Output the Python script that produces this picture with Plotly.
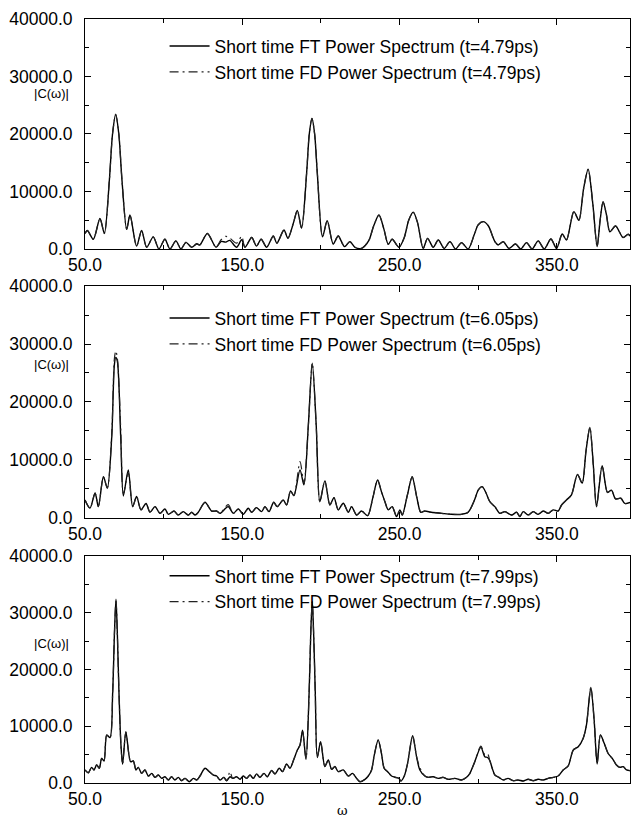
import plotly.graph_objects as go

# ---------------- data ----------------
# panel 1 (t = 4.79 ps)
w1 = [50, 51.5, 55.3, 59.5, 62.3, 65.5, 67.5, 69.5, 71.5, 73.5, 76.5, 78.6, 82.8, 86, 89.2,
      93.4, 97, 100.8, 104, 107.8, 111, 114.2, 117.8, 121, 123, 127.8, 133.3, 136.5, 139.5,
      142, 146.4, 149.6, 151.7, 156, 159, 162, 165.5, 169.7, 172, 176.5, 179, 182.5, 185,
      187.7, 190.9, 192.6, 194.3, 196, 197.7, 201, 204, 207.8, 211, 215, 218.4, 221.6,
      225.8, 230.5, 233.5, 236.9, 240, 242.8, 245.3, 249.6, 253, 255.8, 258.7, 261.5, 265,
      267.8, 271.4, 274.6, 278.4, 282, 285.6, 289.4, 293.6, 297.5, 300, 303.2, 306.5, 309,
      310.6, 312.7, 315.9, 319.5, 323.7, 327, 330.7, 334.3, 338.1, 342, 346.2, 349.8, 353.4,
      356.1, 360.8, 364, 367, 369.9, 372.8, 375.6, 377.5, 379.4, 381.5, 383.7, 387.3, 392.1,
      395.3, 397]
ft1 = [2700, 3200, 1700, 5300, 2700, 12000, 20000, 23400, 20000, 12000, 3400, 5900, 500, 3200, 300,
       2100, 0, 1700, 0, 1400, 0, 1150, 300, 900, 700, 2700, 300, 1300, 1200,
       1500, 300, 1600, 300, 2000, 500, 1700, 300, 2250, 1000, 3300, 1850, 4500, 6700,
       3600, 13200, 20000, 22700, 20000, 13200, 2100, 4900, 870, 2260, 400, 1280, 300,
       100, 1500, 4000, 5900, 3500, 800, 1700, 300, 2000, 5000, 6400, 4500, 100,
       1850, 300, 1560, 100, 1280, 0, 1100, 0, 2500, 4200, 4750, 4000, 2300,
       1280, 700, 1280, 100, 870, 0, 1100, 0, 1400, 0, 1740, 100, 2600,
       1560, 6500, 5000, 10500, 13860, 8000, 400, 5000, 8200, 6000, 3000, 4000, 2000,
       2550, 2150]
fd1 = [2700, 3200, 1700, 5300, 2700, 12000, 20000, 23400, 20000, 12000, 3400, 5900, 500, 3200, 300,
       2100, 0, 1700, 0, 1400, 0, 1150, 300, 900, 700, 2700, 300, 1600, 2200,
       1900, 1000, 2200, 300, 2000, 500, 1700, 300, 2250, 1000, 3300, 1850, 4500, 6700,
       3600, 13200, 20000, 22700, 20000, 13200, 2100, 4900, 870, 2260, 400, 1280, 300,
       100, 1500, 4000, 5900, 3500, 800, 1700, 300, 2000, 5000, 6400, 4500, 100,
       1850, 300, 1560, 100, 1280, 0, 1100, 0, 2500, 4200, 4750, 4000, 2300,
       1280, 700, 1280, 100, 870, 0, 1100, 0, 1400, 0, 1740, 100, 2600,
       1560, 6500, 5000, 10500, 13860, 8000, 400, 5000, 8200, 6000, 3000, 4000, 2000,
       2550, 2150]

# panel 2 (t = 6.05 ps)
w2 = [50, 53.2, 56.4, 58.5, 61.7, 64.2, 67, 68.7, 69.6, 70.6, 72.7, 74.4, 77.5, 80.3, 82.8,
      85.6, 88.8, 91.3, 94.5, 97.7, 100.8, 103, 106.6, 109.3, 112.5, 115.7, 117.8, 120, 122,
      126.3, 130.5, 133.7, 135.8, 141, 144.3, 147.5, 150.6, 153.8, 156, 159, 162.3, 164.4,
      167, 170, 172.2, 176, 178.2, 180.7, 182.8, 186.7, 189.2, 192, 194.5, 197, 199.3,
      202.5, 205.7, 208.3, 211, 214.2, 217.4, 219.5, 222.7, 225.8, 229.7, 233, 236, 238.5,
      240.7, 242.8, 245.3, 248.1, 250.2, 251.7, 255, 258, 261, 263.5, 266, 270.3, 276.7,
      283, 289.4, 293.6, 297.5, 300, 302.5, 305, 307.4, 310.6, 313.8, 317, 321.2, 324.4,
      326.5, 328.6, 331.8, 335, 338.1, 341.3, 344.5, 347.7, 350.8, 353, 356.1, 359.3, 363.1,
      366.1, 368.5, 371, 373.2, 375.2, 378.8, 382.2, 384.7, 387.3, 390.7, 393.2, 397]
ft2 = [3100, 1700, 4300, 1950, 7100, 5150, 14000, 26500, 27700, 27000, 14000, 3800, 8300, 1950, 3700,
       1400, 2500, 1000, 1950, 800, 1550, 630, 1200, 500, 1100, 500, 980, 500, 980,
       2700, 1200, 1200, 800, 1950, 800, 1550, 630, 1670, 980, 1780, 1100, 1950,
       1100, 2700, 1950, 3100, 2240, 4650, 3850, 8300, 5700, 16000, 26700, 16000, 2800,
       6400, 2240, 3500, 1400, 2530, 980, 1950, 500, 1200, 400, 3500, 6550, 4500,
       2800, 1400, 1950, 230, 1400, 500, 4000, 7100, 3500, 980, 1200, 980, 800,
       630, 630, 980, 3000, 4800, 5400, 4300, 2800, 1950, 800, 1100, 500, 980,
       230, 1100, 500, 1100, 630, 1200, 800, 1400, 1200, 2240, 3100, 4000, 7500,
       6000, 11500, 15600, 9000, 1950, 9000, 4400, 4800, 3300, 3400, 2500, 2700]
fd2 = [3100, 1700, 4300, 1950, 7100, 5150, 14500, 27500, 28800, 27500, 15500, 4200, 7800, 1950, 3700,
       1400, 2500, 1000, 1950, 800, 1550, 630, 1200, 500, 1100, 500, 980, 500, 980,
       2700, 1200, 1200, 800, 2300, 800, 1550, 630, 1670, 980, 1780, 1100, 1950,
       1100, 2700, 1950, 3100, 2240, 4650, 3850, 9700, 6000, 16000, 26700, 16000, 2800,
       6400, 2240, 3500, 1400, 2530, 980, 1950, 500, 1200, 400, 3500, 6550, 4500,
       2800, 1400, 1950, 230, 1400, 500, 4000, 7100, 3500, 980, 1200, 980, 800,
       630, 630, 980, 3000, 4800, 5400, 4300, 2800, 1950, 800, 1100, 500, 980,
       230, 1100, 500, 1100, 630, 1200, 800, 1400, 1200, 2240, 3100, 4000, 7500,
       6000, 11500, 15600, 9000, 1950, 9000, 4400, 4800, 3300, 3400, 2500, 2700]

# panel 3 (t = 7.99 ps)
w3 = [50, 52.1, 54.2, 55.7, 57.4, 59.1, 60.6, 62.1, 63.8, 65.9, 67.6, 68.8, 69.7, 70.6, 71.6,
      72.8, 73.9, 76, 79, 80.7, 82.4, 83.9, 86, 88.1, 90.3, 92.4, 94.5, 96.6, 98.7, 100.8,
      103, 105, 107.2, 109.3, 111.4, 113.6, 116.3, 118.9, 121, 123.1, 126.3, 129, 131.6,
      133.7, 135.8, 138.3, 140, 142.2, 143.9, 146.4, 148.5, 150.6, 152.8, 154.9, 157, 159.1,
      161.2, 163.8, 165.9, 168.6, 170.8, 173.5, 175.6, 178.2, 180.3, 182.8, 185, 186.7, 188.3,
      190.5, 192.5, 193.6, 194.5, 195.4, 196.4, 197.7, 199.8, 202.5, 204.7, 206.8, 208.9, 211,
      214.2, 217.4, 220.1, 222.7, 224.8, 228, 230.1, 232.2, 233.9, 236.4, 238.5, 240.2, 242.4,
      244.9, 247.4, 249.6, 250.8, 253, 255.1, 258.3, 260.8, 262.9, 266.1, 268.2, 271.4, 274.6,
      277.7, 280.9, 285.2, 289.4, 292.6, 294.7, 297.4, 301.7, 304.2, 305.9, 307.4, 308.9, 310.6,
      313.1, 315.9, 319, 322.2, 325.4, 328.6, 331.8, 335, 338.1, 341.3, 344.5, 347.7, 350.8,
      354, 357.2, 360.4, 363.6, 366.7, 368.8, 371.6, 373.7, 375.6, 377.7, 380.1, 382.6, 385.2,
      387.9, 390, 392.2, 394.3, 397]
ft3 = [2300, 1800, 2750, 2300, 3200, 2600, 4350, 3900, 8450, 8000, 16000, 27000, 32400, 26000, 16000,
       7000, 3300, 9000, 3750, 3900, 2300, 2750, 1700, 2300, 1230, 1700, 1000, 1400, 820, 1100,
       530, 1100, 530, 1000, 410, 820, 230, 820, 530, 1230, 2600, 2000, 1400,
       1230, 530, 1000, 410, 1100, 820, 1100, 650, 1230, 820, 1400, 820, 1600,
       1000, 1700, 1100, 2200, 1600, 2600, 2000, 3350, 2600, 4200, 5800, 6700, 9300,
       4200, 16000, 27000, 32000, 26000, 16000, 4500, 7300, 2900, 4050, 2400, 2900, 2000,
       2300, 1230, 1700, 820, 230, 650, 1230, 2300, 4900, 7570, 5200, 2600, 2000,
       1230, 1000, 820, 350, 1230, 3460, 8340, 4640, 2300, 1230, 1000, 1100, 820,
       1000, 650, 820, 530, 1000, 1700, 3460, 6280, 4640, 4500, 3930, 2600, 1400,
       1000, 530, 820, 410, 530, 350, 650, 410, 650, 530, 820, 1000, 1230,
       2300, 3000, 5800, 6400, 7860, 10200, 16850, 11100, 3350, 8450, 7000, 5200, 4350,
       3170, 2760, 2880, 2300, 2170]
fd3 = [2300, 1800, 2750, 2300, 3200, 2600, 4350, 3900, 8450, 8000, 16000, 27000, 32400, 26000, 16000,
       7000, 3300, 9000, 3750, 3900, 2300, 2750, 1700, 2300, 1230, 1700, 1000, 1400, 820, 1100,
       530, 1100, 530, 1000, 410, 820, 230, 820, 530, 1230, 2600, 2000, 1400,
       1230, 530, 1000, 410, 2000, 820, 1100, 650, 1230, 820, 1400, 820, 1600,
       1000, 1700, 1100, 2200, 1600, 2600, 2000, 3350, 2600, 4200, 5800, 6700, 9300,
       4200, 16000, 27000, 32000, 26000, 16000, 4500, 7300, 2900, 4050, 2400, 2900, 2000,
       2300, 1230, 1700, 820, 230, 650, 1230, 2300, 4900, 7570, 5200, 2600, 2000,
       1230, 1000, 820, 350, 1230, 3460, 8340, 4640, 2700, 1230, 1000, 1100, 820,
       1000, 650, 820, 530, 1000, 1700, 3460, 6500, 5000, 5200, 3930, 2600, 1400,
       1000, 530, 820, 410, 530, 350, 650, 410, 650, 530, 820, 1000, 1230,
       2300, 3000, 5800, 6400, 7860, 10200, 16850, 11100, 3350, 8450, 7000, 5200, 4350,
       3170, 2760, 2880, 2300, 2170]

times = ["4.79", "6.05", "7.99"]
x_tick_vals = [50, 150, 250, 350]
x_tick_text = ["50.0", "150.0", "250.0", "350.0"]
y_tick_vals = [0, 10000, 20000, 30000, 40000]
y_tick_text = ["0.0", "10000.0", "20000.0", "30000.0", "40000.0"]
ylabel_pos = [27100, 26550, 24550]

# ---------------- figure ----------------
FONT = "Liberation Sans, Arial, Helvetica, sans-serif"
panels = [(w1, ft1, fd1), (w2, ft2, fd2), (w3, ft3, fd3)]
domains = [[0.699, 1.0], [0.3469, 0.6505], [0.0, 0.2971]]
legend_y = [0.988, 0.632, 0.2946]

fig = go.Figure()
layout = dict(
    width=631, height=830,
    margin=dict(l=85, r=1, t=19, b=47, autoexpand=False),
    paper_bgcolor="white", plot_bgcolor="white",
    font=dict(family=FONT, size=17.5, color="black"),
    showlegend=True,
)
annotations = []
for i, (w, ft, fd) in enumerate(panels):
    s = "" if i == 0 else str(i + 1)
    leg = "legend" + s
    fig.add_trace(go.Scatter(
        x=w, y=ft, mode="lines", name=f"Short time FT Power Spectrum (t={times[i]}ps)",
        line=dict(color="black", width=1.4, shape="spline", smoothing=0.8),
        xaxis="x" + s, yaxis="y" + s, legend=leg))
    fig.add_trace(go.Scatter(
        x=w, y=fd, mode="lines", name=f"Short time FD Power Spectrum (t={times[i]}ps)",
        line=dict(color="#222222", width=1.2, shape="spline", smoothing=0.8,
                  dash="9px,4px,2px,4px"),
        xaxis="x" + s, yaxis="y" + s, legend=leg))
    layout["xaxis" + s] = dict(
        domain=[0, 1], anchor="y" + s, range=[50, 396.5],
        tickvals=x_tick_vals, ticktext=x_tick_text, ticks="inside", ticklen=6,
        tickcolor="black", minor=dict(ticks="inside", ticklen=4, dtick=50, tick0=50, tickcolor="black"),
        showline=True, linecolor="black", linewidth=1, mirror="ticks",
        showgrid=False, zeroline=False, automargin=False,
        tickfont=dict(family=FONT, size=17.5, color="black"))
    layout["yaxis" + s] = dict(
        domain=domains[i], anchor="x" + s, range=[0, 40000],
        tickvals=y_tick_vals, ticktext=y_tick_text, ticks="inside", ticklen=6,
        tickcolor="black", minor=dict(ticks="inside", ticklen=4, dtick=5000, tick0=0, tickcolor="black"),
        showline=True, linecolor="black", linewidth=1, mirror="ticks",
        showgrid=False, zeroline=False, ticklabelstandoff=8, automargin=False,
        tickfont=dict(family=FONT, size=17.5, color="black"))
    layout[leg] = dict(
        x=0.146, y=legend_y[i], xanchor="left", yanchor="top",
        bgcolor="rgba(0,0,0,0)", font=dict(family=FONT, size=17.5, color="black"),
        itemwidth=40, tracegroupgap=0)
    annotations.append(dict(
        text="|C(ω)|", xref=f"x{s} domain", x=-0.0606, yref="y" + s, y=ylabel_pos[i],
        showarrow=False, xanchor="center", yanchor="middle",
        font=dict(family=FONT, size=13, color="black")))

annotations.append(dict(
    text="ω", xref="paper", x=0.473, yref="paper", y=-0.036, showarrow=False,
    xanchor="center", yanchor="middle", font=dict(family="DejaVu Serif, serif", size=13, color="black")))
layout["annotations"] = annotations
fig.update_layout(**layout)
fig.write_html("out.html", config={"displayModeBar": False},
               post_script="document.body.style.margin='0px';")
